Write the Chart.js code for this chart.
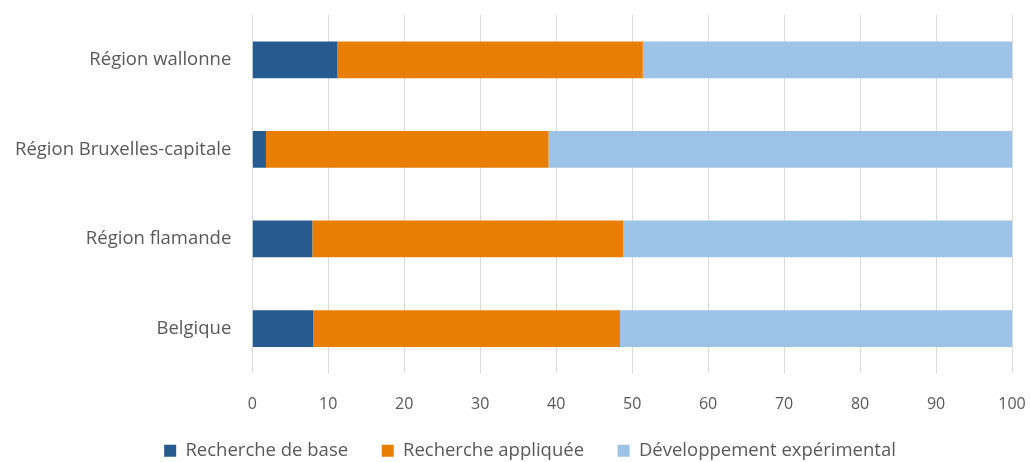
<!DOCTYPE html>
<html>
<head>
<meta charset="utf-8">
<script src="https://cdn.jsdelivr.net/npm/chart.js@4/dist/chart.umd.min.js"></script>
<style>
  html, body { margin: 0; padding: 0; background: #fff; }
  #wrap { width: 1030px; height: 462px; }
</style>
</head>
<body>
<div id="wrap"><canvas id="chart" width="1030" height="462"></canvas></div>
<script>
const regions = ['Région wallonne', 'Région Bruxelles-capitale', 'Région flamande', 'Belgique'];
const rechercheBase = [11.2, 1.8, 7.9, 8.0];
const rechercheAppliquee = [40.2, 37.2, 40.9, 40.4];
const developpement = [48.6, 61.0, 51.2, 51.6];
const xTicks = [0, 10, 20, 30, 40, 50, 60, 70, 80, 90, 100];

const font = "'Open Sans', 'Noto Sans', sans-serif";
const grey = '#595959';

// nudge the legend row a bit to the right of the canvas centre
const legendShift = {
  id: 'legendShift',
  afterLayout(chart) {
    chart.legend.left += 36;
  }
};

new Chart(document.getElementById('chart'), {
  type: 'bar',
  data: {
    labels: regions,
    datasets: [
      { label: 'Recherche de base', data: rechercheBase, backgroundColor: '#275B8F' },
      { label: 'Recherche appliquée', data: rechercheAppliquee, backgroundColor: '#E87E04' },
      { label: 'Développement expérimental', data: developpement, backgroundColor: '#9DC3E6' }
    ]
  },
  options: {
    indexAxis: 'y',
    responsive: false,
    animation: false,
    datasets: { bar: { barPercentage: 0.82, categoryPercentage: 0.5 } },
    layout: { padding: { top: 15, right: 18, left: 12, bottom: -8 } },
    scales: {
      x: {
        stacked: true,
        min: 0,
        max: 100,
        afterBuildTicks: axis => { axis.ticks = xTicks.map(v => ({ value: v })); },
        // invisible tick marks keep the labels away from the bars
        grid: { color: '#d9d9d9', tickColor: 'rgba(0,0,0,0)', tickLength: 19 },
        border: { display: false },
        ticks: { color: grey, padding: 3, font: { family: font, size: 16 } }
      },
      y: {
        stacked: true,
        grid: { drawOnChartArea: false, tickColor: 'rgba(0,0,0,0)', tickLength: 18 },
        border: { display: false },
        ticks: { color: grey, padding: 3, font: { family: font, size: 18.5 } }
      }
    },
    plugins: {
      tooltip: { enabled: false },
      legend: {
        position: 'bottom',
        labels: {
          color: grey,
          boxWidth: 12,
          boxHeight: 12,
          padding: 24,
          font: { family: font, size: 18.5 },
          // extra space after the first two entries
          generateLabels: chart => Chart.defaults.plugins.legend.labels.generateLabels(chart)
            .map((item, i, all) => i < all.length - 1 ? { ...item, text: item.text + '\u00a0\u00a0' } : item)
        }
      }
    }
  },
  plugins: [legendShift]
});
</script>
</body>
</html>
